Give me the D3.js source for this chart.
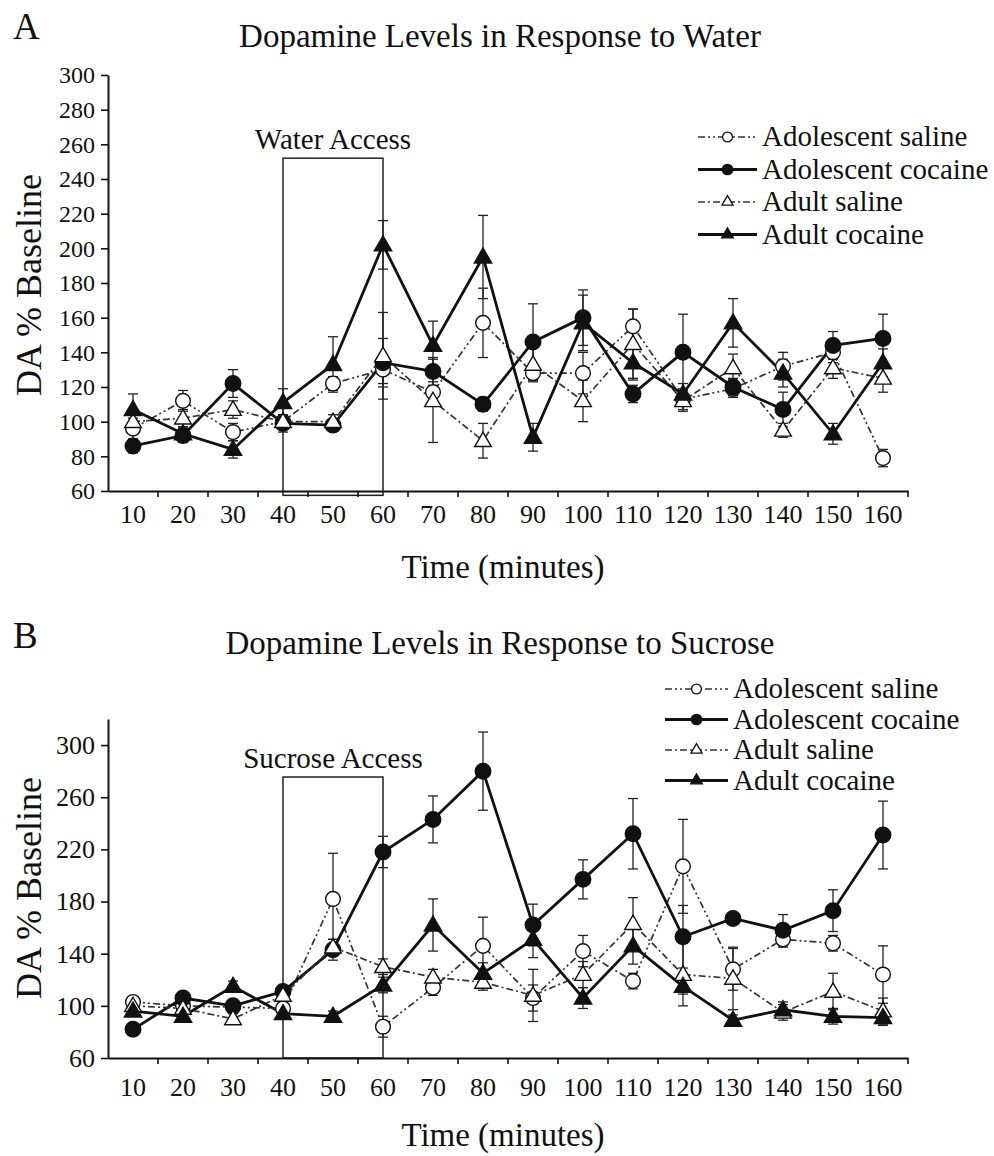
<!DOCTYPE html>
<html><head><meta charset="utf-8">
<script src="https://cdn.jsdelivr.net/npm/d3@7"></script>
<style>
html,body{margin:0;padding:0;background:#fff;}
text{font-family:"Liberation Serif","Times New Roman",serif;fill:#111;}
</style></head>
<body><svg id="chart" width="994" height="1156"></svg>
<script>
// ---------- DATA ----------
const times = [10,20,30,40,50,60,70,80,90,100,110,120,130,140,150,160];
const seriesNames = ["Adolescent saline","Adolescent cocaine","Adult saline","Adult cocaine"];

// Panel A: water
const waterAdolSaline   = [96,112,94,100,122,130,117,157,128,128,155,113,119,132,140,79];
const waterAdolCocaine  = [86,92,122,99,98,134,129,110,146,160,116,140,120,107,144,148];
const waterAdultSaline  = [100,102,107,100,100,138,112,89,133,112,145,112,131,95,131,125];
const waterAdultCocaine = [107,93,84,111,133,202,144,195,91,157,134,116,157,128,93,134];
const waterAdolSalineErr   = [6,6,5,4,4,8,6,20,4,12,10,6,5,8,6,5];
const waterAdolCocaineErr  = [4,4,8,5,3,14,8,4,22,16,5,22,5,10,8,14];
const waterAdultSalineErr  = [5,5,5,4,4,25,24,10,10,12,20,6,8,4,6,8];
const waterAdultCocaineErr = [9,4,5,8,16,14,14,24,8,16,10,6,14,8,6,8];

// Panel B: sucrose
const sucAdolSaline   = [103,100,99,98,182,84,114,146,106,142,119,207,128,151,148,124];
const sucAdolCocaine  = [82,106,100,111,143,218,243,280,162,197,232,153,167,158,173,231];
const sucAdultSaline  = [100,98,90,108,145,130,122,118,108,124,163,124,121,95,111,96];
const sucAdultCocaine = [96,92,115,94,92,116,162,125,151,106,146,115,89,97,92,91];
const sucAdolSalineErr   = [4,4,4,4,35,8,6,22,10,12,6,36,16,6,6,22];
const sucAdolCocaineErr  = [4,4,4,4,8,12,18,30,16,15,27,24,4,12,16,26];
const sucAdultSalineErr  = [4,4,4,4,6,6,6,6,20,10,20,24,24,6,14,10];
const sucAdultCocaineErr = [4,4,4,4,4,6,20,8,14,8,14,6,4,6,6,6];

const yTicksA = [60,80,100,120,140,160,180,200,220,240,260,280,300];
const yTicksB = [60,100,140,180,220,260,300];

// ---------- STYLES ----------
const styles = [
  {shape:d3.symbolCircle,   fill:"#fff", dash:"7,3,2,3,2,3", width:1.7, stroke:"#333", size:170},
  {shape:d3.symbolCircle,   fill:"#111", dash:null,          width:2.8, stroke:"#111", size:190},
  {shape:d3.symbolTriangle, fill:"#fff", dash:"7,3,2,3",     width:1.7, stroke:"#333", size:120},
  {shape:d3.symbolTriangle, fill:"#111", dash:null,          width:2.8, stroke:"#111", size:130}
];

const svg = d3.select("#chart");

function panel(cfg){
  const g = svg.append("g");
  const x = d3.scaleBand().domain(times).range(cfg.xRange).paddingInner(0).paddingOuter(0);
  const cx = d => x(d) + x.bandwidth()/2;
  const y = d3.scaleLinear().domain(cfg.yDomain).range(cfg.yRange);

  // panel letter & title
  g.append("text").attr("x",13).attr("y",cfg.letterY).attr("font-size",37).text(cfg.letter);
  g.append("text").attr("x",500).attr("y",cfg.titleY).attr("text-anchor","middle")
    .attr("font-size",33).text(cfg.title);

  // access box
  g.append("rect")
    .attr("x",cx(cfg.boxFrom)).attr("width",cx(cfg.boxTo)-cx(cfg.boxFrom))
    .attr("y",y(cfg.boxTop)).attr("height",y(cfg.boxBottom)-y(cfg.boxTop))
    .attr("fill","none").attr("stroke","#222").attr("stroke-width",1.5);
  g.append("text").attr("x",(cx(cfg.boxFrom)+cx(cfg.boxTo))/2).attr("y",y(cfg.boxTop)-9)
    .attr("text-anchor","middle").attr("font-size",29).text(cfg.boxLabel);

  // y axis
  const ya = g.append("g").attr("transform",`translate(${cfg.xRange[0]},0)`)
    .call(d3.axisLeft(y).tickValues(cfg.yTicks).tickSize(7).tickSizeOuter(0).tickPadding(6));
  ya.select(".domain").attr("stroke","#111").attr("stroke-width",2);
  ya.selectAll(".tick line").attr("stroke","#111").attr("stroke-width",1.6);
  ya.selectAll("text").attr("font-family","Liberation Serif").attr("font-size",cfg.yFont).attr("fill","#111");

  // x axis
  const xa = g.append("g").attr("transform",`translate(0,${cfg.yRange[0]})`)
    .call(d3.axisBottom(x).tickSize(0).tickSizeOuter(0).tickPadding(cfg.xTickPad));
  xa.select(".domain").attr("stroke","#111").attr("stroke-width",2.2);
  xa.selectAll("text").attr("font-family","Liberation Serif").attr("font-size",26).attr("fill","#111");
  xa.selectAll(".boundary").data(times).join("line").attr("class","boundary")
    .attr("x1",d=>x(d)+x.bandwidth()).attr("x2",d=>x(d)+x.bandwidth())
    .attr("y1",0).attr("y2",6).attr("stroke","#111").attr("stroke-width",1.6);

  // axis titles
  g.append("text").attr("x",503).attr("y",cfg.xLabelY).attr("text-anchor","middle")
    .attr("font-size",33).text("Time (minutes)");
  g.append("text").attr("transform",`translate(41,${cfg.yLabelMid}) rotate(-90)`)
    .attr("text-anchor","middle").attr("font-size",36).text("DA % Baseline");

  // error bars
  cfg.series.forEach((s,si)=>{
    const eg = g.append("g");
    s.vals.forEach((v,i)=>{
      const e = s.err[i], px = cx(times[i]);
      eg.append("line").attr("x1",px).attr("x2",px).attr("y1",y(v+e)).attr("y2",y(v-e))
        .attr("stroke","#222").attr("stroke-width",1.3);
      [v+e,v-e].forEach(t=>eg.append("line").attr("x1",px-5).attr("x2",px+5)
        .attr("y1",y(t)).attr("y2",y(t)).attr("stroke","#222").attr("stroke-width",1.3));
    });
  });

  // lines
  const line = d3.line().x((d,i)=>cx(times[i])).y(d=>y(d));
  cfg.series.forEach((s,si)=>{
    const st = styles[si];
    g.append("path").datum(s.vals).attr("d",line).attr("fill","none")
      .attr("stroke",st.stroke).attr("stroke-width",st.width)
      .attr("stroke-dasharray",st.dash);
  });
  // markers
  cfg.series.forEach((s,si)=>{
    const st = styles[si];
    g.append("g").selectAll("path").data(s.vals).join("path")
      .attr("transform",(d,i)=>`translate(${cx(times[i])},${y(d) + (st.shape===d3.symbolTriangle?1:0)})`)
      .attr("d",d3.symbol().type(st.shape).size(st.size))
      .attr("fill",st.fill).attr("stroke","#111").attr("stroke-width",1.4);
  });

  // legend
  const lg = g.append("g");
  seriesNames.forEach((n,i)=>{
    const st = styles[i];
    const by = cfg.legendY0 + i*cfg.legendStep;
    const ly = by - 9;
    lg.append("line").attr("x1",cfg.legendX1).attr("x2",cfg.legendX2).attr("y1",ly).attr("y2",ly)
      .attr("stroke",st.stroke).attr("stroke-width",st.width).attr("stroke-dasharray",st.dash);
    lg.append("path").attr("transform",`translate(${(cfg.legendX1+cfg.legendX2)/2},${ly})`)
      .attr("d",d3.symbol().type(st.shape).size(st.size*0.45))
      .attr("fill",st.fill).attr("stroke","#111").attr("stroke-width",1.3);
    lg.append("text").attr("x",cfg.legendX2+5).attr("y",by).attr("font-size",29).text(n);
  });
}

panel({
  letter:"A", letterY:39, title:"Dopamine Levels in Response to Water", titleY:47,
  xRange:[108,908], yDomain:[60,300], yRange:[491,75], yTicks:yTicksA, yFont:24,
  boxFrom:40, boxTo:60, boxTop:252, boxBottom:57.5, boxLabel:"Water Access",
  xTickPad:14, xLabelY:578, yLabelMid:285,
  legendX1:698, legendX2:757, legendY0:146, legendStep:32.5,
  series:[
    {vals:waterAdolSaline, err:waterAdolSalineErr},
    {vals:waterAdolCocaine, err:waterAdolCocaineErr},
    {vals:waterAdultSaline, err:waterAdultSalineErr},
    {vals:waterAdultCocaine, err:waterAdultCocaineErr}
  ]
});

panel({
  letter:"B", letterY:648, title:"Dopamine Levels in Response to Sucrose", titleY:654,
  xRange:[108,908], yDomain:[60,320], yRange:[1058,719], yTicks:yTicksB, yFont:26,
  boxFrom:40, boxTo:60, boxTop:275.5, boxBottom:60, boxLabel:"Sucrose Access",
  xTickPad:20, xLabelY:1146, yLabelMid:888,
  legendX1:665, legendX2:728, legendY0:698, legendStep:30.5,
  series:[
    {vals:sucAdolSaline, err:sucAdolSalineErr},
    {vals:sucAdolCocaine, err:sucAdolCocaineErr},
    {vals:sucAdultSaline, err:sucAdultSalineErr},
    {vals:sucAdultCocaine, err:sucAdultCocaineErr}
  ]
});
</script></body></html>
